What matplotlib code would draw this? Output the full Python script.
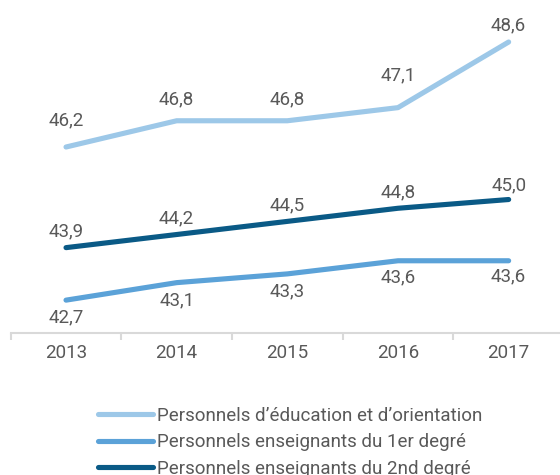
import matplotlib.pyplot as plt

plt.rcParams['font.family'] = ['Roboto', 'DejaVu Sans']

years = ['2013', '2014', '2015', '2016', '2017']
education = [46.2, 46.8, 46.8, 47.1, 48.6]
premier = [42.7, 43.1, 43.3, 43.6, 43.6]
second = [43.9, 44.2, 44.5, 44.8, 45.0]

series = [
    ("Personnels d\u2019éducation et d\u2019orientation", education, '#9dc8e8', [27, 21, 21, 32, 17]),
    ("Personnels enseignants du 1er degré", premier, '#5ba2d8', [-17, -18, -17, -17, -16]),
    ("Personnels enseignants du 2nd degré", second, '#0a5a86', [16, 16, 16, 16, 14]),
]

fig = plt.figure(figsize=(5.6, 4.75), dpi=100)
ax = fig.add_axes([0.0191, 0.2983, 0.988, 0.7017])

x = list(range(len(years)))
handles = []
for name, vals, col, offs in series:
    h, = ax.plot(x, vals, color=col, lw=3.7, solid_capstyle='round',
                 solid_joinstyle='round', label=name)
    handles.append(h)
    for xi, v, o in zip(x, vals, offs):
        ax.annotate(f"{v:.1f}".replace('.', ','), (xi, v), xytext=(0, o * 0.72),
                    textcoords='offset points', ha='center', va='center',
                    fontsize=13.5, color='#595959')

ax.set_xlim(-0.5, 4.5)
ax.set_ylim(41.942, 49.56)
ax.set_yticks([])
for s in ['top', 'right', 'left']:
    ax.spines[s].set_visible(False)
ax.spines['bottom'].set_color('#d9d9d9')
ax.spines['bottom'].set_linewidth(1.5)
ax.set_xticks(x)
ax.set_xticklabels(years, fontsize=13.5, color='#595959')
ax.set_xticks([i - 0.5 for i in range(len(years) + 1)], minor=True)
ax.tick_params(axis='x', which='major', length=0, pad=8)
ax.tick_params(axis='x', which='minor', length=5, width=1.5, color='#d9d9d9')

fig.legend(handles=handles, loc='upper left', bbox_to_anchor=(0.162, 0.159),
           frameon=False, fontsize=13.5, labelcolor='#595959', handlelength=2.93,
           handletextpad=0.2, labelspacing=0.45, borderaxespad=0)

fig.savefig('out.png', dpi=100)
